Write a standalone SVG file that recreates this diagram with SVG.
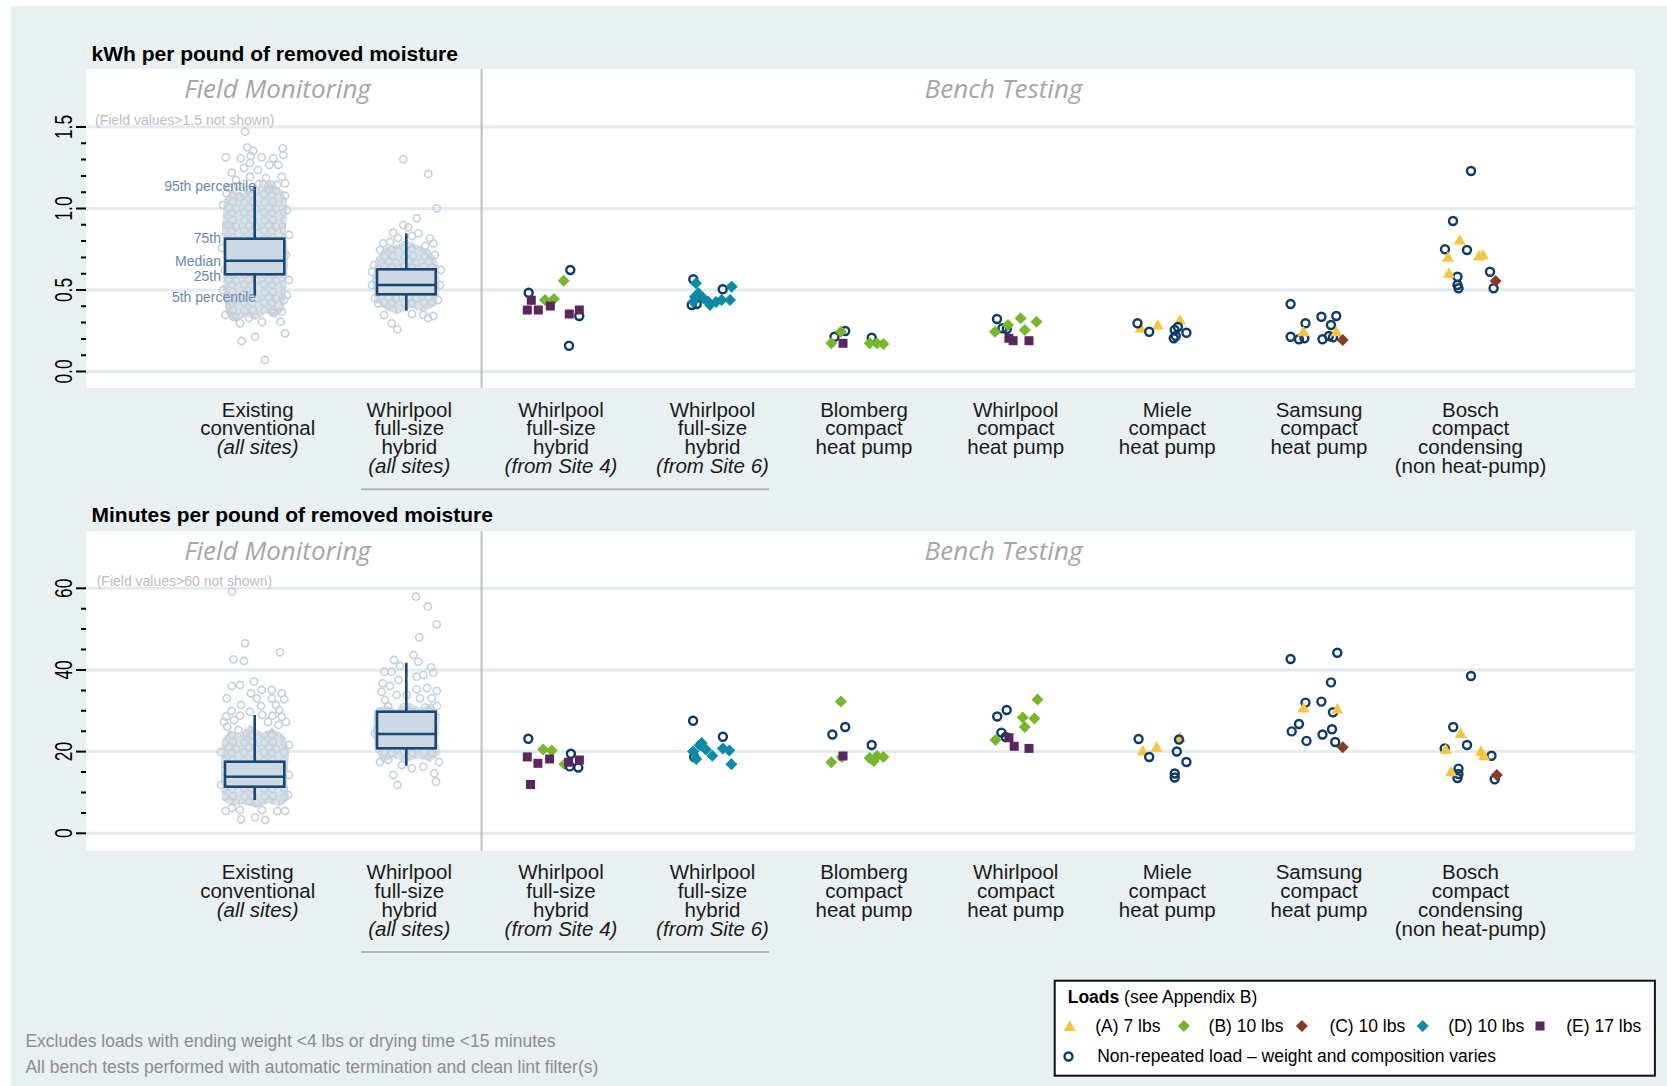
<svg xmlns="http://www.w3.org/2000/svg" width="1667" height="1086" viewBox="0 0 1667 1086">
<style>
.bg{fill:#e8f0f2}
.panel{fill:#fff}
.grid{stroke:#e2ecef;stroke-width:3}
.tick{stroke:#000;stroke-width:2}
.dv{stroke:#bdbdbd;stroke-width:2}
.ul{stroke:#b4b4b4;stroke-width:2}
.gp{fill:none;stroke:#c5d0da;stroke-width:1.6}
.dz{fill:#d9e1e8;stroke:none}
.box{fill:#cfd9e3;stroke:#174876;stroke-width:2.6}
.wh{stroke:#174876;stroke-width:2.6}
.nv{fill:none;stroke:#0d3b66;stroke-width:2.4}
.ann{font-family:"Liberation Sans",Arial,sans-serif;font-size:14px;fill:#6a89ab;text-anchor:end}
.fv{font-family:"Liberation Sans",Arial,sans-serif;font-size:14px;fill:#bdbdbd}
.hdr{font-family:"Open Sans",sans-serif;font-style:italic;font-size:26px;fill:#a6a6a6;text-anchor:middle}
.title{font-family:"Liberation Sans",Arial,sans-serif;font-weight:bold;font-size:21px;fill:#000}
.lab{font-family:"Liberation Sans",Arial,sans-serif;font-size:20.5px;fill:#1a1a1a;text-anchor:middle}
.it{font-style:italic}
.ytl{font-family:"Liberation Sans",Arial,sans-serif;font-size:24px;fill:#000;text-anchor:middle}
.note{font-family:"Liberation Sans",Arial,sans-serif;font-size:17.5px;fill:#8c8c8c}
.leg{font-family:"Liberation Sans",Arial,sans-serif;font-size:17.5px;fill:#000}
.yel{fill:#f9c440}.grn{fill:#76b82a}.brn{fill:#8b3a25}.tea{fill:#0d8ba6}.pur{fill:#5c2760}
</style>
<defs>
<circle id="c" r="4" class="nv"/>
<circle id="g" r="3.6" class="gp"/>
<polygon id="d" points="0,-6 6,0 0,6 -6,0"/>
<rect id="s" x="-4.5" y="-4.5" width="9" height="9"/>
<polygon id="t" points="0,-6 6,4.5 -6,4.5"/>
<pattern id="dense" patternUnits="userSpaceOnUse" width="20" height="18">
<circle cx="4.5" cy="4.5" r="3.5" class="gp"/>
<circle cx="13" cy="3.8" r="3.5" class="gp"/>
<circle cx="8.8" cy="9.8" r="3.5" class="gp"/>
<circle cx="16.2" cy="10.8" r="3.5" class="gp"/>
<circle cx="4" cy="14.3" r="3.5" class="gp"/>
<circle cx="12" cy="14.8" r="3.5" class="gp"/>
</pattern>
</defs>

<rect class="bg" x="11" y="6" width="1656" height="1080"/>

<!-- ================= TOP PANEL ================= -->
<g id="panel-top">
<text class="title" x="91.5" y="60.5">kWh per pound of removed moisture</text>
<rect class="panel" x="86" y="69" width="1549" height="319"/>
<g id="top-grid">
<line class="grid" x1="86" y1="127" x2="1635" y2="127"/>
<line class="grid" x1="86" y1="208.5" x2="1635" y2="208.5"/>
<line class="grid" x1="86" y1="290" x2="1635" y2="290"/>
<line class="grid" x1="86" y1="371.5" x2="1635" y2="371.5"/>
</g>
<line class="dv" x1="481.6" y1="69" x2="481.6" y2="388"/>
<g id="top-yaxis">
<line class="tick" x1="76" y1="127" x2="86" y2="127"/>
<line class="tick" x1="76" y1="208.5" x2="86" y2="208.5"/>
<line class="tick" x1="76" y1="290" x2="86" y2="290"/>
<line class="tick" x1="76" y1="371.5" x2="86" y2="371.5"/>
<path class="tick" d="M81 355.2H86M81 338.9H86M81 322.6H86M81 306.3H86M81 273.7H86M81 257.4H86M81 241.1H86M81 224.8H86M81 192.2H86M81 175.9H86M81 159.6H86M81 143.3H86"/>
<text class="ytl" transform="translate(72,127) rotate(-90) scale(0.72,1)">1.5</text>
<text class="ytl" transform="translate(72,208.5) rotate(-90) scale(0.72,1)">1.0</text>
<text class="ytl" transform="translate(72,290) rotate(-90) scale(0.72,1)">0.5</text>
<text class="ytl" transform="translate(72,371.5) rotate(-90) scale(0.72,1)">0.0</text>
</g>
<text class="hdr" x="277.5" y="98.3">Field Monitoring</text>
<text class="hdr" x="1003.5" y="98.3">Bench Testing</text>
<text class="fv" x="95" y="125">(Field values&gt;1.5 not shown)</text>

<g id="top-field">
<polygon class="dz" points="224,200 232,190 243,193 252,186 262,189 272,183 282,190 287,200 286,230 288,260 286,290 284,310 276,318 266,313 256,320 246,316 236,322 226,314 223,290 224,260 222,230"/>
<polygon fill="url(#dense)" points="224,200 232,190 243,193 252,186 262,189 272,183 282,190 287,200 286,230 288,260 286,290 284,310 276,318 266,313 256,320 246,316 236,322 226,314 223,290 224,260 222,230"/>
<use href="#g" x="245" y="131.7"/><use href="#g" x="247.3" y="147.3"/><use href="#g" x="225.7" y="157.3"/><use href="#g" x="240.7" y="158.3"/><use href="#g" x="250.7" y="156"/><use href="#g" x="253.3" y="151"/><use href="#g" x="261.7" y="157.3"/><use href="#g" x="273.3" y="158.3"/><use href="#g" x="282.7" y="148.3"/><use href="#g" x="283.3" y="155"/><use href="#g" x="269.3" y="165"/><use href="#g" x="278.3" y="165"/><use href="#g" x="250" y="163"/><use href="#g" x="231.7" y="172.7"/><use href="#g" x="236" y="180"/><use href="#g" x="250" y="176.7"/><use href="#g" x="281.7" y="176.7"/><use href="#g" x="285" y="183.3"/><use href="#g" x="263.3" y="184"/><use href="#g" x="271.7" y="185"/><use href="#g" x="226.7" y="193.3"/><use href="#g" x="240" y="196.7"/><use href="#g" x="285" y="195.7"/><use href="#g" x="266" y="178"/><use href="#g" x="258" y="170"/><use href="#g" x="244" y="168"/>
<use href="#g" x="225.3" y="315"/><use href="#g" x="233.3" y="316.7"/><use href="#g" x="240" y="323.3"/><use href="#g" x="280.7" y="321.7"/><use href="#g" x="272.7" y="312.7"/><use href="#g" x="281.7" y="311.7"/><use href="#g" x="255" y="336.7"/><use href="#g" x="241.7" y="341"/><use href="#g" x="285" y="333.3"/><use href="#g" x="265" y="360"/><use href="#g" x="262" y="322"/><use href="#g" x="249" y="318"/><use href="#g" x="230" y="305"/><use href="#g" x="284" y="300"/>
<use href="#g" x="223" y="205"/><use href="#g" x="226" y="225"/><use href="#g" x="222" y="248"/><use href="#g" x="225" y="270"/><use href="#g" x="223" y="290"/><use href="#g" x="287" y="210"/><use href="#g" x="289" y="235"/><use href="#g" x="286" y="255"/><use href="#g" x="289" y="280"/><use href="#g" x="287" y="295"/><use href="#g" x="229" y="188"/><use href="#g" x="238" y="186"/><use href="#g" x="248" y="190"/><use href="#g" x="259" y="184"/><use href="#g" x="268" y="186"/><use href="#g" x="277" y="185"/>
<line class="wh" x1="254.7" y1="186.7" x2="254.7" y2="238.7"/>
<line class="wh" x1="254.7" y1="274.3" x2="254.7" y2="295.7"/>
<rect class="box" x="225" y="238.7" width="59.3" height="35.6"/>
<line class="wh" x1="225" y1="260.7" x2="284.3" y2="260.7"/>
<text class="ann" x="256" y="190.5">95th percentile</text>
<text class="ann" x="221" y="243">75th</text>
<text class="ann" x="221" y="265.5">Median</text>
<text class="ann" x="221" y="280.5">25th</text>
<text class="ann" x="256" y="301.5">5th percentile</text>
</g>

<g id="top-whirlpool-all">
<polygon class="dz" points="376,258 384,248 396,245 406,240 418,245 430,250 438,262 440,290 436,305 424,312 410,308 398,314 386,310 375,302 372,280"/>
<polygon fill="url(#dense)" points="376,258 384,248 396,245 406,240 418,245 430,250 438,262 440,290 436,305 424,312 410,308 398,314 386,310 375,302 372,280"/>
<use href="#g" x="403.3" y="159.3"/><use href="#g" x="428.3" y="174"/><use href="#g" x="436.7" y="208.3"/><use href="#g" x="416.7" y="218.3"/><use href="#g" x="403.3" y="225"/><use href="#g" x="408.3" y="227.3"/><use href="#g" x="393.3" y="232.7"/><use href="#g" x="418.3" y="233.3"/><use href="#g" x="383.3" y="243.3"/><use href="#g" x="430" y="238.3"/><use href="#g" x="433.3" y="243.3"/><use href="#g" x="391.7" y="323.3"/><use href="#g" x="397.3" y="329.3"/><use href="#g" x="378.3" y="303.3"/><use href="#g" x="433.3" y="316"/><use href="#g" x="423.3" y="315"/><use href="#g" x="374" y="265"/><use href="#g" x="372" y="285"/><use href="#g" x="375" y="298"/><use href="#g" x="441" y="270"/><use href="#g" x="440" y="285"/><use href="#g" x="438" y="300"/><use href="#g" x="380" y="250"/><use href="#g" x="390" y="242"/><use href="#g" x="425" y="246"/><use href="#g" x="435" y="255"/><use href="#g" x="384" y="315"/><use href="#g" x="412" y="314"/><use href="#g" x="428" y="318"/><use href="#g" x="398" y="238"/><use href="#g" x="412" y="236"/><use href="#g" x="372" y="272"/>
<line class="wh" x1="406.3" y1="233.3" x2="406.3" y2="269.3"/>
<line class="wh" x1="406.3" y1="294.3" x2="406.3" y2="310.7"/>
<rect class="box" x="377" y="269.3" width="58.7" height="25"/>
<line class="wh" x1="377" y1="285" x2="435.7" y2="285"/>
</g>

<g id="top-site4">
<g class="grn"><use href="#d" x="563.7" y="280.7"/><use href="#d" x="545" y="300"/><use href="#d" x="554" y="299"/></g>
<use href="#c" x="570.3" y="270"/><use href="#c" x="528.7" y="292.7"/><use href="#c" x="579.3" y="316"/><use href="#c" x="569" y="345.7"/>
<g class="pur"><use href="#s" x="531.3" y="300.3"/><use href="#s" x="527.3" y="310"/><use href="#s" x="538.3" y="310"/><use href="#s" x="550.3" y="306"/><use href="#s" x="569.3" y="314"/><use href="#s" x="579.3" y="310"/></g>
</g>
<g id="top-site6">
<use href="#c" x="693.3" y="279.3"/><use href="#c" x="691.7" y="305"/><use href="#c" x="696.7" y="304"/><use href="#c" x="722.7" y="289.3"/>
<g class="tea"><use href="#d" x="696" y="283.3"/><use href="#d" x="695" y="296.7"/><use href="#d" x="698.3" y="293.3"/><use href="#d" x="703.3" y="298.3"/><use href="#d" x="708.3" y="301.7"/><use href="#d" x="710" y="305"/><use href="#d" x="693.3" y="301.7"/><use href="#d" x="721.7" y="300"/><use href="#d" x="730" y="300"/><use href="#d" x="731.7" y="286.7"/><use href="#d" x="716" y="302"/></g>
</g>
<g id="top-blomberg">
<use href="#c" x="834.5" y="336.7"/><use href="#c" x="845.2" y="331"/><use href="#c" x="871.7" y="337.7"/>
<g class="grn"><use href="#d" x="831.3" y="343.3"/><use href="#d" x="840.9" y="331.7"/><use href="#d" x="869.6" y="343.3"/><use href="#d" x="877" y="343.3"/><use href="#d" x="883.4" y="344"/></g>
<use href="#s" class="pur" x="843" y="343.3"/>
</g>
<g id="top-whirlpool-compact">
<use href="#c" x="997" y="319"/><use href="#c" x="1002.5" y="328.3"/><use href="#c" x="1006.8" y="329"/>
<g class="grn"><use href="#d" x="995" y="331.7"/><use href="#d" x="1008" y="325"/><use href="#d" x="1020.6" y="318.3"/><use href="#d" x="1024.8" y="330"/><use href="#d" x="1036.5" y="321.7"/></g>
<g class="pur"><use href="#s" x="1008.9" y="338.3"/><use href="#s" x="1013.1" y="340.7"/><use href="#s" x="1029" y="340.7"/></g>
</g>
<g id="top-miele">
<g class="yel"><use href="#t" x="1140.7" y="328.3"/><use href="#t" x="1157.7" y="325"/><use href="#t" x="1180" y="320"/></g>
<use href="#c" x="1137.5" y="323.3"/><use href="#c" x="1149.2" y="331.7"/><use href="#c" x="1174.7" y="330"/><use href="#c" x="1177.9" y="327"/><use href="#c" x="1173.7" y="338.3"/><use href="#c" x="1186.4" y="332.7"/><use href="#c" x="1175.8" y="336"/>
</g>
<g id="top-samsung">
<use href="#c" x="1290.6" y="304"/><use href="#c" x="1290.6" y="336.7"/><use href="#c" x="1299" y="339.3"/><use href="#c" x="1305.5" y="323.3"/><use href="#c" x="1304.4" y="338.3"/><use href="#c" x="1321.4" y="316.7"/><use href="#c" x="1336.3" y="316"/><use href="#c" x="1331" y="325"/><use href="#c" x="1322.5" y="339.3"/><use href="#c" x="1329" y="336"/><use href="#c" x="1333" y="337.3"/>
<g class="yel"><use href="#t" x="1303.4" y="331.7"/><use href="#t" x="1336.3" y="331.7"/></g>
<use href="#d" class="brn" x="1342.7" y="340"/>
</g>
<g id="top-bosch">
<use href="#c" x="1471" y="171"/><use href="#c" x="1453" y="221"/><use href="#c" x="1445" y="249.3"/><use href="#c" x="1467" y="250"/><use href="#c" x="1457.5" y="276.7"/><use href="#c" x="1457.5" y="285"/><use href="#c" x="1458.5" y="288.3"/><use href="#c" x="1490" y="271.7"/><use href="#c" x="1493.6" y="288.3"/>
<g class="yel"><use href="#t" x="1459.6" y="240"/><use href="#t" x="1448" y="257.3"/><use href="#t" x="1483" y="255"/><use href="#t" x="1449" y="273.3"/><use href="#t" x="1479" y="256"/></g>
<use href="#d" class="brn" x="1495.6" y="281"/>
</g>

<g id="top-xlabels">
<text class="lab" x="257.7" y="416.7">Existing<tspan x="257.7" dy="18.7">conventional</tspan><tspan class="it" x="257.7" dy="18.7">(all sites)</tspan></text>
<text class="lab" x="409.3" y="416.7">Whirlpool<tspan x="409.3" dy="18.7">full-size</tspan><tspan x="409.3" dy="18.7">hybrid</tspan><tspan class="it" x="409.3" dy="18.7">(all sites)</tspan></text>
<text class="lab" x="561" y="416.7">Whirlpool<tspan x="561" dy="18.7">full-size</tspan><tspan x="561" dy="18.7">hybrid</tspan><tspan class="it" x="561" dy="18.7">(from Site 4)</tspan></text>
<text class="lab" x="712.5" y="416.7">Whirlpool<tspan x="712.5" dy="18.7">full-size</tspan><tspan x="712.5" dy="18.7">hybrid</tspan><tspan class="it" x="712.5" dy="18.7">(from Site 6)</tspan></text>
<text class="lab" x="864" y="416.7">Blomberg<tspan x="864" dy="18.7">compact</tspan><tspan x="864" dy="18.7">heat pump</tspan></text>
<text class="lab" x="1015.7" y="416.7">Whirlpool<tspan x="1015.7" dy="18.7">compact</tspan><tspan x="1015.7" dy="18.7">heat pump</tspan></text>
<text class="lab" x="1167.3" y="416.7">Miele<tspan x="1167.3" dy="18.7">compact</tspan><tspan x="1167.3" dy="18.7">heat pump</tspan></text>
<text class="lab" x="1319" y="416.7">Samsung<tspan x="1319" dy="18.7">compact</tspan><tspan x="1319" dy="18.7">heat pump</tspan></text>
<text class="lab" x="1470.5" y="416.7">Bosch<tspan x="1470.5" dy="18.7">compact</tspan><tspan x="1470.5" dy="18.7">condensing</tspan><tspan x="1470.5" dy="18.7">(non heat-pump)</tspan></text>
<line class="ul" x1="361" y1="489.3" x2="769" y2="489.3"/>
</g>
</g>

<!-- ================= BOTTOM PANEL ================= -->
<g id="panel-bottom">
<text class="title" x="91.5" y="522">Minutes per pound of removed moisture</text>
<rect class="panel" x="86" y="531" width="1549" height="319.7"/>
<g id="bottom-grid">
<line class="grid" x1="86" y1="588.3" x2="1635" y2="588.3"/>
<line class="grid" x1="86" y1="670" x2="1635" y2="670"/>
<line class="grid" x1="86" y1="751.6" x2="1635" y2="751.6"/>
<line class="grid" x1="86" y1="833.3" x2="1635" y2="833.3"/>
</g>
<line class="dv" x1="481.6" y1="531" x2="481.6" y2="850.7"/>
<g id="bottom-yaxis">
<line class="tick" x1="76" y1="588.3" x2="86" y2="588.3"/>
<line class="tick" x1="76" y1="670" x2="86" y2="670"/>
<line class="tick" x1="76" y1="751.6" x2="86" y2="751.6"/>
<line class="tick" x1="76" y1="833.3" x2="86" y2="833.3"/>
<path class="tick" d="M81 812.9H86M81 792.5H86M81 772.1H86M81 731.2H86M81 710.8H86M81 690.4H86M81 649.6H86M81 629.1H86M81 608.7H86"/>
<text class="ytl" transform="translate(72,588.3) rotate(-90) scale(0.72,1)">60</text>
<text class="ytl" transform="translate(72,670) rotate(-90) scale(0.72,1)">40</text>
<text class="ytl" transform="translate(72,751.6) rotate(-90) scale(0.72,1)">20</text>
<text class="ytl" transform="translate(72,833.3) rotate(-90) scale(0.72,1)">0</text>
</g>
<text class="hdr" x="277.5" y="560.3">Field Monitoring</text>
<text class="hdr" x="1003.5" y="560.3">Bench Testing</text>
<text class="fv" x="96.7" y="585.5">(Field values&gt;60 not shown)</text>

<g id="bottom-field">
<polygon class="dz" points="222,740 230,730 240,735 250,725 262,733 272,728 284,735 289,750 287,780 289,800 280,806 268,803 256,808 244,804 232,806 222,800 221,770"/>
<polygon fill="url(#dense)" points="222,740 230,730 240,735 250,725 262,733 272,728 284,735 289,750 287,780 289,800 280,806 268,803 256,808 244,804 232,806 222,800 221,770"/>
<use href="#g" x="232" y="591.7"/><use href="#g" x="245" y="643.3"/><use href="#g" x="233.3" y="659.3"/><use href="#g" x="244" y="661"/><use href="#g" x="280" y="652.3"/>
<use href="#g" x="240" y="810"/><use href="#g" x="241" y="819.3"/><use href="#g" x="255" y="817.3"/><use href="#g" x="265" y="820"/><use href="#g" x="277.3" y="811"/><use href="#g" x="285" y="811"/><use href="#g" x="225.7" y="811"/><use href="#g" x="232" y="808"/><use href="#g" x="262" y="810"/>
<use href="#g" x="231.7" y="686"/><use href="#g" x="240" y="685"/><use href="#g" x="254" y="681.7"/><use href="#g" x="261.7" y="690"/><use href="#g" x="271.7" y="690"/><use href="#g" x="281.7" y="693.3"/><use href="#g" x="226.7" y="698.3"/><use href="#g" x="251" y="693.3"/><use href="#g" x="256.7" y="698.3"/><use href="#g" x="271.7" y="698.3"/><use href="#g" x="284.3" y="699.3"/><use href="#g" x="241" y="705"/><use href="#g" x="231.7" y="711"/><use href="#g" x="261" y="706"/><use href="#g" x="276" y="705"/><use href="#g" x="226" y="716.7"/><use href="#g" x="240" y="715.7"/><use href="#g" x="250" y="711.7"/><use href="#g" x="262.3" y="715"/><use href="#g" x="272.3" y="715.7"/><use href="#g" x="279.3" y="710"/><use href="#g" x="281.7" y="716.7"/><use href="#g" x="227.3" y="726.7"/><use href="#g" x="238.3" y="730"/><use href="#g" x="246.7" y="733.3"/><use href="#g" x="278.3" y="725"/><use href="#g" x="224" y="722"/><use href="#g" x="286" y="722"/><use href="#g" x="268" y="722"/><use href="#g" x="234" y="720"/>
<use href="#g" x="221" y="752"/><use href="#g" x="289" y="745"/><use href="#g" x="221" y="785"/><use href="#g" x="289" y="775"/><use href="#g" x="288" y="795"/>
<line class="wh" x1="254.7" y1="715" x2="254.7" y2="761.7"/>
<line class="wh" x1="254.7" y1="786.7" x2="254.7" y2="800"/>
<rect class="box" x="225" y="761.7" width="59.3" height="25"/>
<line class="wh" x1="225" y1="776.7" x2="284.3" y2="776.7"/>
</g>

<g id="bottom-whirlpool-all">
<polygon class="dz" points="374,712 384,705 396,710 408,702 420,708 432,703 440,715 438,740 440,755 430,762 418,758 406,762 394,758 382,762 375,750 373,730"/>
<polygon fill="url(#dense)" points="374,712 384,705 396,710 408,702 420,708 432,703 440,715 438,740 440,755 430,762 418,758 406,762 394,758 382,762 375,750 373,730"/>
<use href="#g" x="416" y="596.7"/><use href="#g" x="427.7" y="606.7"/><use href="#g" x="436.7" y="624.3"/><use href="#g" x="419.3" y="637.3"/><use href="#g" x="413.3" y="655"/><use href="#g" x="418.3" y="661.7"/><use href="#g" x="394" y="660"/><use href="#g" x="400" y="666"/><use href="#g" x="384.3" y="671.7"/><use href="#g" x="391.7" y="671.7"/><use href="#g" x="398.3" y="680"/><use href="#g" x="431" y="667.3"/><use href="#g" x="433.3" y="672.7"/><use href="#g" x="423.3" y="675"/><use href="#g" x="416.7" y="676.7"/><use href="#g" x="382.7" y="683.3"/><use href="#g" x="436.7" y="691"/><use href="#g" x="416.7" y="689.3"/><use href="#g" x="381.7" y="691.7"/><use href="#g" x="431.7" y="698.3"/><use href="#g" x="385" y="700"/><use href="#g" x="396.7" y="695"/><use href="#g" x="406.7" y="695"/><use href="#g" x="420" y="698.3"/><use href="#g" x="388.3" y="706.7"/><use href="#g" x="403.3" y="707.3"/><use href="#g" x="425" y="707.3"/><use href="#g" x="379.3" y="711.7"/><use href="#g" x="437" y="706"/><use href="#g" x="427" y="688"/><use href="#g" x="390" y="686"/>
<use href="#g" x="388.3" y="760"/><use href="#g" x="393.3" y="775"/><use href="#g" x="397.3" y="785"/><use href="#g" x="436" y="781.7"/><use href="#g" x="434.3" y="773.3"/><use href="#g" x="411.7" y="768.3"/><use href="#g" x="423.3" y="766.7"/><use href="#g" x="375" y="733.3"/><use href="#g" x="380" y="762"/><use href="#g" x="439" y="762"/><use href="#g" x="402" y="765"/>
<line class="wh" x1="406.3" y1="662.7" x2="406.3" y2="711.7"/>
<line class="wh" x1="406.3" y1="748.3" x2="406.3" y2="765.7"/>
<rect class="box" x="377" y="711.7" width="58.7" height="36.6"/>
<line class="wh" x1="377" y1="734" x2="435.7" y2="734"/>
</g>

<g id="bottom-site4">
<g class="grn"><use href="#d" x="543.2" y="749.4"/><use href="#d" x="551.7" y="750.5"/><use href="#d" x="564.5" y="764.3"/></g>
<use href="#c" x="528.3" y="738.8"/><use href="#c" x="570.9" y="753.7"/><use href="#c" x="569.8" y="766.4"/><use href="#c" x="578.3" y="767.5"/>
<g class="pur"><use href="#s" x="527.3" y="756.9"/><use href="#s" x="537.9" y="763.3"/><use href="#s" x="549.6" y="759"/><use href="#s" x="530.5" y="784.5"/><use href="#s" x="568.7" y="762.2"/><use href="#s" x="579.4" y="760"/></g>
</g>
<g id="bottom-site6">
<use href="#c" x="693.1" y="720.8"/><use href="#c" x="722.9" y="736.7"/><use href="#c" x="694.2" y="757"/>
<g class="tea"><use href="#d" x="693.1" y="751.6"/><use href="#d" x="699.5" y="745.2"/><use href="#d" x="705.9" y="749.4"/><use href="#d" x="696.3" y="759"/><use href="#d" x="712.3" y="755.8"/><use href="#d" x="722.9" y="748.4"/><use href="#d" x="729.3" y="750.5"/><use href="#d" x="731.4" y="764.3"/><use href="#d" x="701.6" y="743.1"/></g>
</g>
<g id="bottom-blomberg">
<use href="#c" x="832.4" y="734.5"/><use href="#c" x="845.2" y="727"/><use href="#c" x="871.7" y="745"/>
<g class="grn"><use href="#d" x="840.9" y="701.6"/><use href="#d" x="831.3" y="762.2"/><use href="#d" x="841.9" y="757"/><use href="#d" x="869.6" y="758"/><use href="#d" x="877" y="756"/><use href="#d" x="883.4" y="757"/><use href="#d" x="873.8" y="761"/></g>
<use href="#s" class="pur" x="843" y="756"/>
</g>
<g id="bottom-whirlpool-compact">
<use href="#c" x="997.2" y="716.5"/><use href="#c" x="1006.7" y="710"/><use href="#c" x="1001.4" y="732.6"/><use href="#c" x="1005.7" y="737"/>
<g class="grn"><use href="#d" x="1037.5" y="699.5"/><use href="#d" x="1022.7" y="717.5"/><use href="#d" x="1034.4" y="718.6"/><use href="#d" x="1024.8" y="727"/><use href="#d" x="995.5" y="740"/></g>
<g class="pur"><use href="#s" x="1008.9" y="737.7"/><use href="#s" x="1014.2" y="746.3"/><use href="#s" x="1029" y="748.4"/></g>
</g>
<g id="bottom-miele">
<g class="yel"><use href="#t" x="1142.8" y="751"/><use href="#t" x="1156.6" y="747.3"/><use href="#t" x="1180" y="737.7"/></g>
<use href="#c" x="1138.6" y="739"/><use href="#c" x="1179" y="739.5"/><use href="#c" x="1149.2" y="757"/><use href="#c" x="1176.8" y="751.5"/><use href="#c" x="1186.4" y="762"/><use href="#c" x="1174.7" y="773.5"/><use href="#c" x="1174.7" y="777.5"/>
</g>
<g id="bottom-samsung">
<use href="#c" x="1290.6" y="659"/><use href="#c" x="1337.3" y="652.7"/><use href="#c" x="1331" y="682.4"/><use href="#c" x="1305.5" y="702.6"/><use href="#c" x="1321.4" y="701.6"/><use href="#c" x="1333" y="712.2"/><use href="#c" x="1299" y="724"/><use href="#c" x="1332" y="729.2"/><use href="#c" x="1291.7" y="731.4"/><use href="#c" x="1322.5" y="734.5"/><use href="#c" x="1306.5" y="740.9"/><use href="#c" x="1335.2" y="742"/>
<g class="yel"><use href="#t" x="1303.4" y="708"/><use href="#t" x="1337.3" y="709"/></g>
<use href="#d" class="brn" x="1342.7" y="747.3"/>
</g>
<g id="bottom-bosch">
<use href="#c" x="1471" y="676"/><use href="#c" x="1453.2" y="727"/><use href="#c" x="1467" y="745"/><use href="#c" x="1444.7" y="748.4"/><use href="#c" x="1491.5" y="755.8"/><use href="#c" x="1458.5" y="768.6"/><use href="#c" x="1458.5" y="774"/><use href="#c" x="1494.7" y="779.2"/><use href="#c" x="1457.5" y="778"/>
<g class="yel"><use href="#t" x="1460.6" y="733.5"/><use href="#t" x="1445.8" y="749.4"/><use href="#t" x="1480.9" y="751.6"/><use href="#t" x="1451.1" y="771.8"/><use href="#t" x="1484.1" y="755.8"/></g>
<use href="#d" class="brn" x="1496.8" y="775"/>
</g>

<g id="bottom-xlabels">
<text class="lab" x="257.7" y="879.4">Existing<tspan x="257.7" dy="18.7">conventional</tspan><tspan class="it" x="257.7" dy="18.7">(all sites)</tspan></text>
<text class="lab" x="409.3" y="879.4">Whirlpool<tspan x="409.3" dy="18.7">full-size</tspan><tspan x="409.3" dy="18.7">hybrid</tspan><tspan class="it" x="409.3" dy="18.7">(all sites)</tspan></text>
<text class="lab" x="561" y="879.4">Whirlpool<tspan x="561" dy="18.7">full-size</tspan><tspan x="561" dy="18.7">hybrid</tspan><tspan class="it" x="561" dy="18.7">(from Site 4)</tspan></text>
<text class="lab" x="712.5" y="879.4">Whirlpool<tspan x="712.5" dy="18.7">full-size</tspan><tspan x="712.5" dy="18.7">hybrid</tspan><tspan class="it" x="712.5" dy="18.7">(from Site 6)</tspan></text>
<text class="lab" x="864" y="879.4">Blomberg<tspan x="864" dy="18.7">compact</tspan><tspan x="864" dy="18.7">heat pump</tspan></text>
<text class="lab" x="1015.7" y="879.4">Whirlpool<tspan x="1015.7" dy="18.7">compact</tspan><tspan x="1015.7" dy="18.7">heat pump</tspan></text>
<text class="lab" x="1167.3" y="879.4">Miele<tspan x="1167.3" dy="18.7">compact</tspan><tspan x="1167.3" dy="18.7">heat pump</tspan></text>
<text class="lab" x="1319" y="879.4">Samsung<tspan x="1319" dy="18.7">compact</tspan><tspan x="1319" dy="18.7">heat pump</tspan></text>
<text class="lab" x="1470.5" y="879.4">Bosch<tspan x="1470.5" dy="18.7">compact</tspan><tspan x="1470.5" dy="18.7">condensing</tspan><tspan x="1470.5" dy="18.7">(non heat-pump)</tspan></text>
<line class="ul" x1="361" y1="952" x2="769" y2="952"/>
</g>
</g>

<!-- ================= LEGEND ================= -->
<g id="legend">
<rect x="1054.7" y="980.7" width="600.2" height="95" fill="#fff" stroke="#111" stroke-width="2"/>
<text class="leg" x="1067.7" y="1003.3"><tspan font-weight="bold">Loads</tspan> (see Appendix B)</text>
<use href="#t" class="yel" x="1069.7" y="1026.5"/>
<text class="leg" x="1095.3" y="1031.7">(A) 7 lbs</text>
<use href="#d" class="grn" x="1183.8" y="1026"/>
<text class="leg" x="1208.6" y="1031.7">(B) 10 lbs</text>
<use href="#d" class="brn" x="1301.9" y="1026"/>
<text class="leg" x="1329.4" y="1031.7">(C) 10 lbs</text>
<use href="#d" class="tea" x="1422.7" y="1026"/>
<text class="leg" x="1448.3" y="1031.7">(D) 10 lbs</text>
<use href="#s" class="pur" x="1540" y="1026"/>
<text class="leg" x="1566.3" y="1031.7">(E) 17 lbs</text>
<use href="#c" x="1068.5" y="1056.5"/>
<text class="leg" x="1097.2" y="1061.7">Non-repeated load – weight and composition varies</text>
</g>

<g id="notes">
<text class="note" x="25.4" y="1046.5">Excludes loads with ending weight &lt;4 lbs or drying time &lt;15 minutes</text>
<text class="note" x="25.4" y="1072.5">All bench tests performed with automatic termination and clean lint filter(s)</text>
</g>
</svg>
